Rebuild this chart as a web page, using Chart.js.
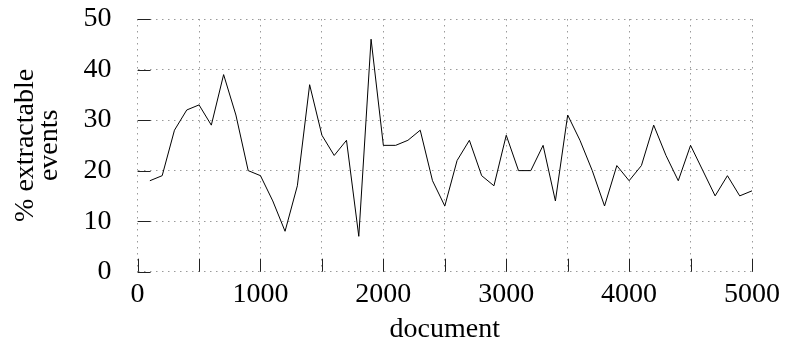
<!DOCTYPE html>
<html>
<head>
<meta charset="utf-8">
<script src="https://cdn.jsdelivr.net/npm/chart.js@4/dist/chart.umd.min.js"></script>
<style>
  html, body { margin: 0; padding: 0; background: #fff; }
  #wrap { width: 786px; height: 347px; position: relative; }
</style>
</head>
<body>
<div id="wrap"><canvas id="c" width="786" height="347"></canvas></div>
<script>
const documents = [100, 200, 300, 400, 500, 600, 700, 800, 900, 1000,
  1100, 1200, 1300, 1400, 1500, 1600, 1700, 1800, 1900, 2000,
  2100, 2200, 2300, 2400, 2500, 2600, 2700, 2800, 2900, 3000,
  3100, 3200, 3300, 3400, 3500, 3600, 3700, 3800, 3900, 4000,
  4100, 4200, 4300, 4400, 4500, 4600, 4700, 4800, 4900, 5000];
const extractable = [18, 19, 28, 32, 33, 29, 39, 31, 20, 19,
  14, 8, 17, 37, 27, 23, 26, 7, 46, 25,
  25, 26, 28, 18, 13, 22, 26, 19, 17, 27,
  20, 20, 25, 14, 31, 26, 20, 13, 21, 18,
  21, 29, 23, 18, 25, 20, 15, 19, 15, 16];
const xTickLabels = [0, 1000, 2000, 3000, 4000, 5000];
const yTickLabels = [0, 10, 20, 30, 40, 50];

const FONT = "'Liberation Serif', 'Times New Roman', serif";

const innerTicks = {
  id: 'innerTicks',
  afterDraw(chart) {
    const {ctx, chartArea} = chart;
    const xs = chart.scales.x, ys = chart.scales.y;
    ctx.save();
    ctx.strokeStyle = '#222';
    ctx.lineWidth = 1;
    ctx.beginPath();
    xs.ticks.forEach(t => {
      const px = Math.round(xs.getPixelForValue(t.value)) + 0.5;
      ctx.moveTo(px, chartArea.bottom);
      ctx.lineTo(px, chartArea.bottom - 13);
    });
    ys.ticks.forEach(t => {
      const py = Math.round(ys.getPixelForValue(t.value)) + 0.5;
      ctx.moveTo(chartArea.left, py);
      ctx.lineTo(chartArea.left + 13, py);
    });
    ctx.stroke();
    ctx.restore();
  }
};

new Chart(document.getElementById('c'), {
  type: 'line',
  data: {
    datasets: [{
      data: documents.map((d, i) => ({x: d, y: extractable[i]})),
      borderColor: '#000',
      borderWidth: 1,
      pointRadius: 0,
      tension: 0,
      fill: false
    }]
  },
  options: {
    responsive: false,
    animation: false,
    layout: { padding: { top: 19, right: 34, left: 0, bottom: 0 } },
    plugins: { legend: { display: false }, tooltip: { enabled: false } },
    scales: {
      x: {
        type: 'linear',
        min: 0, max: 5000,
        grid: { color: '#9a9a9a', lineWidth: 1, drawTicks: false },
        border: { display: false, dash: [1.5, 4.5] },
        ticks: {
          stepSize: 500,
          padding: 6,
          color: '#000',
          maxRotation: 0,
          autoSkip: false,
          font: { family: FONT, size: 28 },
          callback: v => xTickLabels.includes(v) ? String(v) : ''
        },
        title: {
          display: true, text: 'document', color: '#000',
          font: { family: FONT, size: 28 },
          padding: { top: 0, bottom: 1 }
        },
        afterFit(s) { s.height = 347 - 271.7; s.paddingLeft = 0; s.paddingRight = 0; }
      },
      y: {
        min: 0, max: 50,
        grid: { color: '#9a9a9a', lineWidth: 1, drawTicks: false },
        border: { display: false, dash: [1.5, 4.5] },
        ticks: {
          stepSize: 10,
          padding: 26,
          color: '#000',
          font: { family: FONT, size: 28 },
          callback: v => yTickLabels.includes(v) ? String(v) : ''
        },
        title: {
          display: true, text: ['% extractable', 'events'], color: '#000',
          font: { family: FONT, size: 28, lineHeight: 0.86 },
          padding: { top: 14, bottom: 0 }
        },
        afterFit(s) { s.width = 137.6; s.paddingTop = 0; s.paddingBottom = 0; }
      }
    }
  },
  plugins: [innerTicks]
});
</script>
</body>
</html>
